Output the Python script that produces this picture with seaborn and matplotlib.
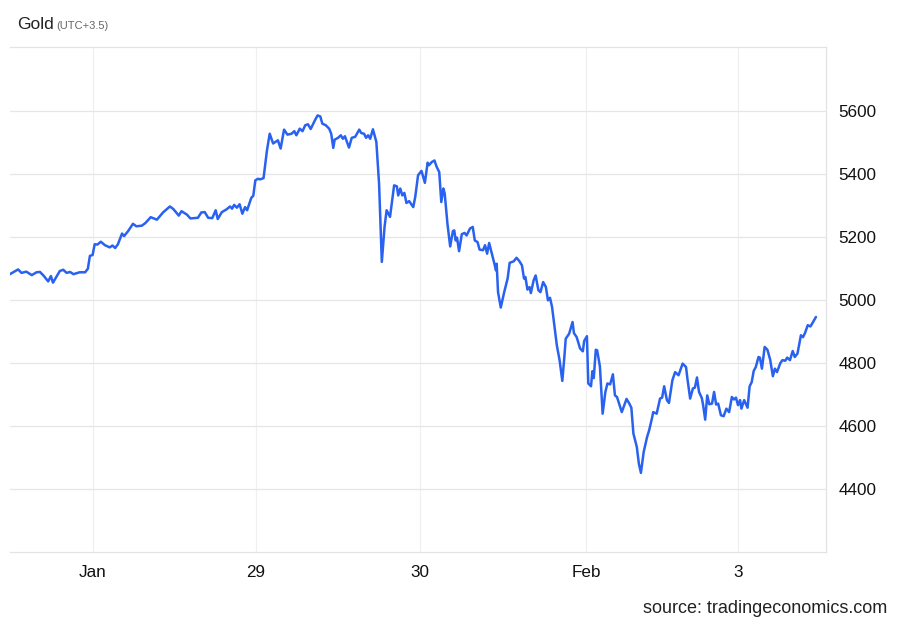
import pandas as pd
import seaborn as sns
import matplotlib.pyplot as plt

# Gold price (hours since first point, price)
hours = [
    0.0, 1.2, 1.7, 2.4, 3.2, 3.9, 4.4, 4.9, 5.6, 6.0, 6.3, 7.3, 7.8, 8.3, 8.8, 9.3,
    10.2, 11.0, 11.4, 11.7, 12.1, 12.4, 12.8, 13.3, 13.9, 14.6, 15.0, 15.4, 15.8,
    16.4, 16.7, 17.3, 18.0, 18.5, 19.3, 19.8, 20.6, 21.5, 22.4, 23.4, 23.9, 24.7,
    25.1, 25.9, 26.4, 27.5, 28.0, 28.5, 29.0, 29.6, 30.1, 30.4, 31.0, 31.7, 32.2,
    32.5, 32.8, 33.2, 33.6, 34.0, 34.4, 34.7, 35.3, 35.6, 35.9, 36.3, 36.6, 37.1,
    37.6, 38.0, 38.5, 39.2, 39.6, 40.1, 40.6, 41.2, 41.6, 41.9, 42.4, 42.8, 43.2,
    43.6, 44.0, 44.6, 45.0, 45.4, 45.7, 46.2, 46.7, 47.0, 47.3, 47.5, 48.0, 48.4,
    48.7, 49.0, 49.6, 50.0, 50.5, 51.1, 51.4, 51.8, 52.1, 52.4, 52.7, 53.1, 53.6,
    54.0, 54.4, 54.8, 55.1, 55.6, 56.2, 56.6, 56.8, 57.1, 57.4, 57.7, 58.0, 58.4,
    59.0, 59.3, 59.7, 60.2, 60.7, 61.1, 61.3, 61.7, 62.1, 62.4, 62.8, 63.1, 63.4,
    63.6, 64.0, 64.4, 64.8, 65.0, 65.2, 65.4, 65.7, 66.1, 66.5, 66.8, 67.3, 67.7,
    68.0, 68.4, 68.7, 69.2, 69.5, 69.8, 70.1, 70.5, 70.8, 71.1, 71.2, 71.4, 71.8,
    72.3, 72.8, 73.1, 73.7, 74.1, 74.5, 74.9, 75.2, 75.4, 75.7, 76.0, 76.2, 76.6,
    76.9, 77.3, 77.6, 78.0, 78.4, 78.7, 79.0, 79.3, 79.6, 80.0, 80.4, 80.8, 81.1,
    81.3, 81.8, 82.3, 82.5, 82.9, 83.4, 83.8, 84.0, 84.4, 84.6, 85.0, 85.2, 85.4,
    85.7, 85.9, 86.3, 86.7, 87.1, 87.4, 87.8, 88.2, 88.5, 88.8, 89.1, 89.5, 89.8,
    90.2, 90.6, 90.9, 91.2, 91.7, 92.0, 92.3, 92.7, 93.2, 93.5, 93.9, 94.1, 94.6,
    95.1, 95.4, 95.7, 96.1, 96.4, 96.9, 97.3, 97.8, 98.4, 98.9, 99.1, 99.5, 99.9,
    100.2, 100.5, 100.8, 101.2, 101.4, 101.7, 102.0, 102.3, 102.7, 103.0, 103.3,
    103.6, 104.0, 104.4, 104.8, 105.2, 105.6, 105.9, 106.2, 106.5, 106.8, 107.0,
    107.4, 107.9, 108.2, 108.5, 108.8, 109.1, 109.5, 109.7, 110.0, 110.4, 110.8,
    111.2, 111.6, 111.9, 112.2, 112.7, 113.0, 113.4, 113.7, 114.1, 114.5, 114.8,
    115.2, 115.7, 116.0, 116.3, 116.7, 117.1, 117.9,
]
price = [
    5083, 5098, 5087, 5091, 5080, 5089, 5090, 5079, 5060, 5077, 5056, 5093, 5097, 5087, 5090, 5083,
    5089, 5089, 5100, 5141, 5144, 5178, 5177, 5186, 5175, 5168, 5174, 5166, 5178,
    5212, 5204, 5220, 5243, 5235, 5237, 5245, 5264, 5256, 5279, 5298, 5290, 5269,
    5283, 5272, 5260, 5262, 5279, 5280, 5262, 5261, 5286, 5258, 5280, 5289, 5298,
    5291, 5303, 5294, 5305, 5275, 5296, 5286, 5325, 5332, 5381, 5386, 5384, 5388,
    5476, 5529, 5498, 5508, 5482, 5542, 5526, 5529, 5537, 5524, 5545, 5537, 5556,
    5559, 5544, 5571, 5587, 5584, 5561, 5556, 5545, 5529, 5484, 5510, 5516, 5524,
    5513, 5521, 5485, 5516, 5519, 5542, 5531, 5529, 5516, 5524, 5513, 5543, 5503,
    5370, 5122, 5233, 5286, 5265, 5365, 5362, 5333, 5355, 5333, 5341, 5309, 5315,
    5296, 5330, 5397, 5411, 5373, 5437, 5429, 5439, 5444, 5425, 5407, 5312, 5355,
    5339, 5243, 5171, 5220, 5222, 5190, 5199, 5156, 5210, 5214, 5206, 5228, 5233,
    5190, 5185, 5161, 5159, 5175, 5148, 5182, 5148, 5122, 5095, 5116, 5026, 4977,
    5026, 5069, 5119, 5124, 5135, 5125, 5111, 5069, 5074, 5034, 5042, 5023, 5063,
    5079, 5032, 5026, 5058, 5042, 5000, 5008, 4979, 4926, 4857, 4810, 4744, 4820,
    4878, 4894, 4931, 4896, 4883, 4847, 4838, 4871, 4886, 4736, 4727, 4775, 4753,
    4843, 4841, 4790, 4640, 4709, 4736, 4733, 4765, 4698, 4693, 4672, 4645, 4663,
    4687, 4672, 4659, 4577, 4534, 4481, 4452, 4518, 4566, 4587, 4624, 4645, 4640,
    4688, 4691, 4727, 4683, 4674, 4746, 4772, 4762, 4799, 4788, 4751, 4688, 4720,
    4723, 4755, 4709, 4690, 4667, 4621, 4698, 4670, 4672, 4709, 4669,
    4672, 4635, 4632, 4656, 4645, 4693, 4685, 4691, 4667, 4683, 4656,
    4683, 4659, 4727, 4740, 4776, 4788, 4820, 4818, 4783, 4852, 4843,
    4812, 4759, 4783, 4772, 4801, 4810, 4808, 4818, 4810, 4839, 4820,
    4831, 4889, 4883, 4896, 4921, 4917, 4947,
]

tick_hours = [12.1, 36.0, 60.0, 84.3, 106.5]
tick_labels = ['Jan', '29', '30', 'Feb', '3']
y_ticks = [4400, 4600, 4800, 5000, 5200, 5400, 5600]

df = pd.DataFrame({'hour': hours, 'price': price})

sns.set_style('white')
plt.rcParams['font.family'] = ['Liberation Sans', 'DejaVu Sans']

fig = plt.figure(figsize=(9, 6.24), dpi=100)
ax = fig.add_axes([0.011, 0.115, 0.907, 0.81])

sns.lineplot(data=df, x='hour', y='price', ax=ax, color='#2962f0', linewidth=1.8)

ax.set_xlim(0, 119.4)
ax.set_ylim(4200, 5805)
ax.set_xticks(tick_hours)
ax.set_xticklabels(tick_labels)
ax.set_yticks(y_ticks)
ax.yaxis.tick_right()
ax.tick_params(axis='both', length=0, labelsize=12.3, colors='#111111')
ax.tick_params(axis='x', pad=9)
ax.tick_params(axis='y', pad=9)
ax.set_xlabel('')
ax.set_ylabel('')

ax.grid(axis='y', color='#e6e6e6', linewidth=0.9)
ax.grid(axis='x', color='#eef0f3', linewidth=0.9)
ax.set_axisbelow(True)

for side in ['top', 'right', 'bottom']:
    ax.spines[side].set_visible(True)
    ax.spines[side].set_color('#e3e3e3')
    ax.spines[side].set_linewidth(0.9)
ax.spines['left'].set_visible(False)

fig.text(0.019, 0.96, 'Gold', fontsize=12.5, color='#222222', va='center')
fig.text(0.063, 0.958, '(UTC+3.5)', fontsize=8, color='#666666', va='center')
fig.text(0.986, 0.025, 'source: tradingeconomics.com', fontsize=13,
         color='#222222', ha='right', va='center')

fig.savefig('out.png', dpi=100)
plt.close(fig)
